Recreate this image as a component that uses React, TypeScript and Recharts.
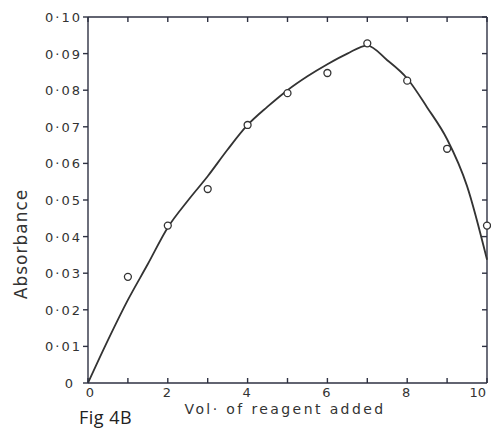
import React from "react";
import { ComposedChart, Line, Scatter, XAxis, YAxis, ZAxis, ReferenceLine } from "recharts";

// Measured absorbance at each volume of reagent added
const volumes = [1, 2, 3, 4, 5, 6, 7, 8, 9, 10];
const absorbances = [0.029, 0.043, 0.053, 0.0705, 0.0792, 0.0847, 0.0928, 0.0826, 0.064, 0.043];

// Smooth fitted curve through the measurements
const curveVolumes = [0, 0.5, 1, 1.5, 2, 2.5, 3, 3.5, 4, 4.5, 5, 5.5, 6, 6.5, 7, 7.5, 8, 8.5, 9, 9.5, 10];
const curveAbsorbances = [
  0, 0.0117, 0.0227, 0.0325, 0.0425, 0.0498, 0.0565, 0.0638, 0.0705, 0.0755, 0.08, 0.0838,
  0.0871, 0.09, 0.0922, 0.0882, 0.0832, 0.0753, 0.0666, 0.0538, 0.0337,
];

// Axis ticks
const xTicks = [0, 1, 2, 3, 4, 5, 6, 7, 8, 9, 10];
const xLabelled = [0, 2, 4, 6, 8, 10];
const yTicks = [0, 0.01, 0.02, 0.03, 0.04, 0.05, 0.06, 0.07, 0.08, 0.09, 0.1];

const pointData = volumes.map((v, i) => ({ vol: v, abs: absorbances[i] }));
const curveData = curveVolumes.map((v, i) => ({ vol: v, fit: curveAbsorbances[i] }));

const INK = "#333";
const FRAME = "#2e3142";
const TEXT = "#333";
const FONT = "'DejaVu Sans', sans-serif";
const TICK = 5;

const fmtY = (v: number) => {
  const n = Math.round(v * 100);
  if (n === 0) return "0";
  return "0·" + String(n).padStart(2, "0");
};

// Tick label under the bottom axis (every other volume)
const BottomLabel = (props: any) => {
  const x = Number(props.x);
  const y = Number(props.y);
  const v = props.payload.value;
  if (!xLabelled.includes(v)) return <g />;
  let tx = x - 1;
  let anchor = "middle";
  if (v === 0) tx = x + 2;
  if (v === 10) {
    tx = x + 3;
    anchor = "end";
  }
  return (
    <text x={tx} y={y + 6} textAnchor={anchor} fontSize={13} fontFamily={FONT} fill={TEXT}>
      {v}
    </text>
  );
};

// Tick label left of the absorbance axis
const LeftLabel = (props: any) => {
  const x = Number(props.x);
  const y = Number(props.y);
  const v = props.payload.value;
  const isZero = Math.round(v * 100) === 0;
  return (
    <text
      x={isZero ? x - 6 : x + 1}
      y={y + 5}
      textAnchor="end"
      fontSize={13}
      letterSpacing={2}
      fontFamily={FONT}
      fill={TEXT}
    >
      {fmtY(v)}
    </text>
  );
};

// Short inward tick marks at the bottom and top edges of the frame
const VerticalTicks = (props: any) => {
  const { x1, y1, y2 } = props;
  const top = Math.min(y1, y2);
  const bottom = Math.max(y1, y2);
  return (
    <path
      d={`M${x1},${bottom}V${bottom - TICK}M${x1},${top}V${top + TICK}`}
      stroke={FRAME}
      strokeWidth={1.4}
      fill="none"
    />
  );
};

// Inward tick on the right edge of the frame
const RightTicks = (props: any) => {
  const { x1, x2, y1 } = props;
  const right = Math.max(x1, x2);
  return <path d={`M${right},${y1}H${right - TICK}`} stroke={FRAME} strokeWidth={1.4} fill="none" />;
};

export default function App() {
  return (
    <div style={{ position: "absolute", left: 0, top: 0, width: 491, height: 429, background: "#fff" }}>
      <ComposedChart width={491} height={429} margin={{ top: 17, right: 4, bottom: 0, left: 0 }}>
        <XAxis
          xAxisId="b"
          dataKey="vol"
          type="number"
          domain={[0, 10]}
          ticks={xTicks}
          height={46}
          stroke={FRAME}
          strokeWidth={1.4}
          tickLine={false}
          tick={<BottomLabel />}
        />
        <YAxis
          yAxisId="l"
          type="number"
          domain={[0, 0.1]}
          ticks={yTicks}
          width={88}
          stroke={FRAME}
          strokeWidth={1.4}
          tickSize={5}
          tick={<LeftLabel />}
        />
        <ZAxis range={[38, 38]} />
        {xTicks.map((v) => (
          <ReferenceLine key={"xt" + v} xAxisId="b" yAxisId="l" x={v} shape={<VerticalTicks />} />
        ))}
        {yTicks.slice(1).map((v) => (
          <ReferenceLine key={"yt" + v} xAxisId="b" yAxisId="l" y={v} shape={<RightTicks />} />
        ))}
        <ReferenceLine xAxisId="b" yAxisId="l" y={0.1} stroke={FRAME} strokeWidth={1.4} />
        <ReferenceLine xAxisId="b" yAxisId="l" x={10} stroke={FRAME} strokeWidth={1.4} />
        <Line
          xAxisId="b"
          yAxisId="l"
          data={curveData}
          dataKey="fit"
          type="monotone"
          stroke={INK}
          strokeWidth={1.8}
          dot={false}
          isAnimationActive={false}
        />
        <Scatter
          xAxisId="b"
          yAxisId="l"
          data={pointData}
          dataKey="abs"
          fill="#fff"
          stroke={INK}
          strokeWidth={1.3}
          isAnimationActive={false}
        />
      </ComposedChart>
      {/* Axis titles and figure caption */}
      <svg width={491} height={429} style={{ position: "absolute", left: 0, top: 0, pointerEvents: "none" }}>
        <text
          x={21}
          y={244}
          transform="rotate(-90 21 244)"
          textAnchor="middle"
          dominantBaseline="central"
          fontSize={17}
          letterSpacing={1}
          fontFamily={FONT}
          fill={TEXT}
        >
          Absorbance
        </text>
        <text
          x={285}
          y={414}
          textAnchor="middle"
          fontSize={14}
          letterSpacing={2.4}
          fontFamily={FONT}
          fill={TEXT}
        >
          Vol· of reagent added
        </text>
        <text x={79} y={424} fontSize={18} letterSpacing={0.5} fontFamily="'Open Sans', sans-serif" fill="#222">
          Fig 4B
        </text>
      </svg>
    </div>
  );
}
